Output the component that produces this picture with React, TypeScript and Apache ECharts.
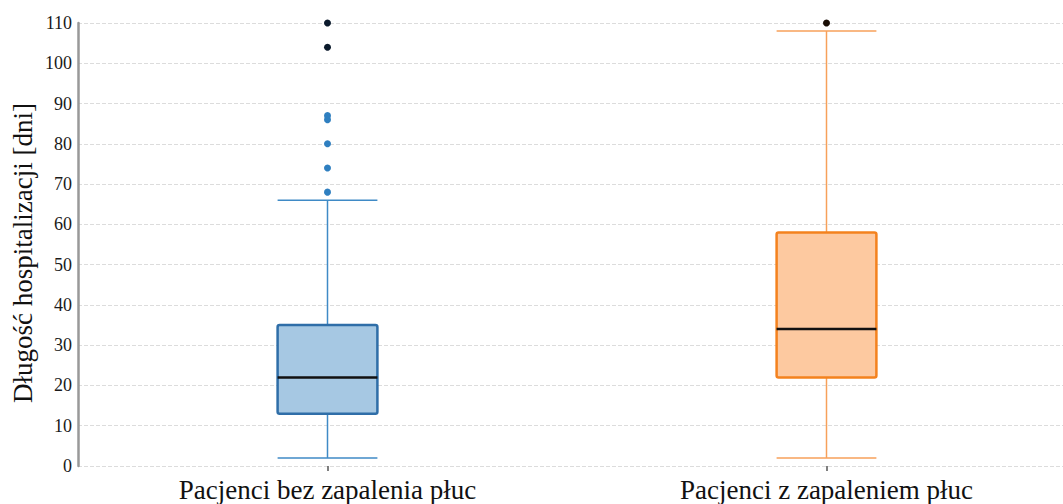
import React, { useEffect, useRef } from "react";
import * as echarts from "echarts";

// Hospital stay length (days) for two patient groups
const categories = ["Pacjenci bez zapalenia płuc", "Pacjenci z zapaleniem płuc"];
const whiskerLow = [2, 2];
const quartile1 = [13, 22];
const medians = [22, 34];
const quartile3 = [35, 58];
const whiskerHigh = [66, 108];

// Outliers per group: ordinary and extreme
const outliersWithout = [68, 74, 80, 86, 87];
const extremesWithout = [104, 110];
const outliersWith: number[] = [];
const extremesWith = [110];

const yTicks = { min: 0, max: 110, interval: 10 };
const yTitle = "Długość hospitalizacji [dni]";

const palette = [
  { fill: "#a6c8e3", border: "#2f6ea8", whisker: "#3f8ac6", point: "#2f7fc0" },
  { fill: "#fdc9a0", border: "#f4821e", whisker: "#f7a05a", point: "#f4821e" },
];

const FONT = "'Liberation Serif', 'Times New Roman', serif";

export default function App() {
  const ref = useRef<HTMLDivElement>(null);

  useEffect(() => {
    if (!ref.current) return;
    const chart = echarts.init(ref.current, null, { renderer: "svg" });

    const boxData = categories.map((_, i) => [
      i,
      whiskerLow[i],
      quartile1[i],
      medians[i],
      quartile3[i],
      whiskerHigh[i],
    ]);

    const renderBox = (params: any, api: any) => {
      const idx = api.value(0);
      const c = palette[idx];
      const half = (api.size([1, 0])[0] * 0.2) / 2;
      const [cx, yLow] = api.coord([idx, api.value(1)]);
      const yQ1 = api.coord([idx, api.value(2)])[1];
      const yMed = api.coord([idx, api.value(3)])[1];
      const yQ3 = api.coord([idx, api.value(4)])[1];
      const yHigh = api.coord([idx, api.value(5)])[1];
      const whiskerStyle = { stroke: c.whisker, lineWidth: 1.5 };
      return {
        type: "group",
        children: [
          { type: "line", shape: { x1: cx, y1: yLow, x2: cx, y2: yQ1 }, style: whiskerStyle },
          { type: "line", shape: { x1: cx, y1: yQ3, x2: cx, y2: yHigh }, style: whiskerStyle },
          { type: "line", shape: { x1: cx - half, y1: yLow, x2: cx + half, y2: yLow }, style: whiskerStyle },
          { type: "line", shape: { x1: cx - half, y1: yHigh, x2: cx + half, y2: yHigh }, style: whiskerStyle },
          {
            type: "rect",
            shape: { x: cx - half, y: yQ3, width: half * 2, height: yQ1 - yQ3, r: 2 },
            style: { fill: c.fill, stroke: c.border, lineWidth: 2.5 },
          },
          {
            type: "line",
            shape: { x1: cx - half, y1: yMed, x2: cx + half, y2: yMed },
            style: { stroke: "#111111", lineWidth: 2.5 },
          },
        ],
      };
    };

    const scatter = (values: number[], idx: number, color: string) => ({
      type: "scatter",
      data: values.map((v) => [idx, v]),
      symbolSize: 7,
      itemStyle: { color, opacity: 1 },
      z: 5,
    });

    chart.setOption({
      animation: false,
      grid: { left: 78, right: 0, top: 23, bottom: 38 },
      graphic: [
        {
          type: "text",
          x: 23,
          y: 253,
          rotation: Math.PI / 2,
          style: {
            text: yTitle,
            font: `27px ${FONT}`,
            fill: "#111",
            align: "center",
            verticalAlign: "middle",
          },
        },
      ],
      xAxis: {
        type: "category",
        data: categories,
        boundaryGap: true,
        axisLine: { show: false },
        axisTick: {
          show: true,
          alignWithLabel: true,
          length: 5,
          lineStyle: { color: "#555", width: 1.5 },
        },
        axisLabel: { fontFamily: FONT, fontSize: 27, color: "#111", margin: 10 },
        splitLine: { show: false },
      },
      yAxis: {
        type: "value",
        min: yTicks.min,
        max: yTicks.max,
        interval: yTicks.interval,
        axisLine: { show: true, lineStyle: { color: "#999", width: 2.5 } },
        axisTick: { show: false },
        axisLabel: { fontFamily: FONT, fontSize: 18, color: "#1a1a1a", margin: 6 },
        splitLine: { show: true, lineStyle: { color: "#dcdcdc", type: "dashed", width: 1 } },
      },
      series: [
        {
          type: "custom",
          renderItem: renderBox,
          data: boxData,
          encode: { x: 0, y: [1, 2, 3, 4, 5] },
          z: 3,
        },
        scatter(outliersWithout, 0, palette[0].point),
        scatter(extremesWithout, 0, "#0b1a2c"),
        scatter(outliersWith, 1, palette[1].point),
        scatter(extremesWith, 1, "#1a0d05"),
      ],
    });

    return () => chart.dispose();
  }, []);

  return (
    <div
      style={{
        position: "absolute",
        left: 0,
        top: 0,
        width: 1063,
        height: 504,
        overflow: "hidden",
        background: "#fff",
      }}
    >
      <div ref={ref} style={{ width: 1076, height: 504 }} />
    </div>
  );
}
